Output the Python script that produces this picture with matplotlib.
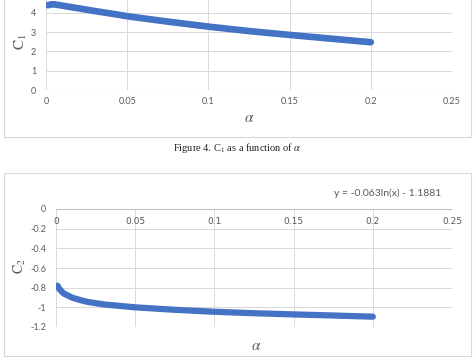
import matplotlib
matplotlib.use("Agg")
import matplotlib.pyplot as plt
from matplotlib.patches import Rectangle

# C1 curve
alpha_c1 = [0.001, 0.003, 0.005, 0.01, 0.02, 0.03, 0.04, 0.05, 0.075,
            0.1, 0.125, 0.15, 0.175, 0.2]
c1 = [4.40, 4.44, 4.45, 4.38, 4.24, 4.10, 3.97, 3.83, 3.55,
      3.29, 3.06, 2.86, 2.67, 2.48]

# C2 curve
alpha_c2 = [0.001, 0.002, 0.003, 0.005, 0.0075, 0.01, 0.015, 0.02, 0.03,
            0.04, 0.05, 0.075, 0.1, 0.125, 0.15, 0.175, 0.2]
c2 = [-0.78, -0.81, -0.83, -0.86, -0.88, -0.90, -0.925, -0.945, -0.97,
      -0.985, -1.0, -1.025, -1.045, -1.06, -1.072, -1.083, -1.095]

x_ticks = [0, 0.05, 0.1, 0.15, 0.2, 0.25]
x_tick_labels = ["0", "0.05", "0.1", "0.15", "0.2", "0.25"]
c1_ticks = [0, 1, 2, 3, 4]
c2_ticks = [0, -0.2, -0.4, -0.6, -0.8, -1, -1.2]
c2_tick_labels = ["0", "-0.2", "-0.4", "-0.6", "-0.8", "-1", "-1.2"]

equation = "y = -0.063ln(x) - 1.1881"

W, H = 475, 363
blue = "#4472c4"
grid = "#d9d9d9"
tick_col = "#595959"
tick_font = "Lato"

plt.rcParams["mathtext.fontset"] = "stix"

fig = plt.figure(figsize=(W / 100, H / 100), dpi=100)
fig.patch.set_facecolor("white")


def fx(px):
    return px / W


def fy(py):
    return 1 - py / H


# chart frames
for top, bottom in [(-2, 137), (173, 356)]:
    fig.add_artist(Rectangle((fx(4), fy(bottom)), fx(467), (bottom - top) / H,
                             transform=fig.transFigure, fill=False,
                             edgecolor="#d9d9d9", linewidth=0.8))


def style(ax):
    for s in ax.spines.values():
        s.set_visible(False)
    ax.grid(True, color=grid, linewidth=0.7)
    ax.set_axisbelow(True)
    ax.tick_params(length=0, labelsize=6.5, colors=tick_col)
    for lab in ax.get_xticklabels() + ax.get_yticklabels():
        lab.set_fontfamily(tick_font)


# top chart: C1
ax1 = fig.add_axes([fx(46), fy(90), fx(452 - 46), 96.3 / H])
ax1.plot(alpha_c1, c1, color=blue, linewidth=4.8, solid_capstyle="round")
ax1.set_xlim(0, 0.25)
ax1.set_ylim(0, 5)
ax1.set_xticks(x_ticks, x_tick_labels)
ax1.set_yticks(c1_ticks)
ax1.axhline(0, color="#bfbfbf", linewidth=0.8)
style(ax1)
ax1.tick_params(axis="x", pad=5)
ax1.tick_params(axis="y", pad=7)

fig.text(fx(21), fy(42), r"$\mathrm{C_1}$", rotation=90, ha="center",
         va="center", fontsize=11, color=tick_col)
fig.text(fx(249), fy(118), r"$\alpha$", ha="center", va="center",
         fontsize=11, color=tick_col)

fig.text(fx(237), fy(148), r"Figure 4. C$_1$ as a function of $\alpha$",
         ha="center", va="center", fontsize=7.5, family="Liberation Serif",
         color="#222222")

# bottom chart: C2
ax2 = fig.add_axes([fx(56), fy(327), fx(452 - 56), (327 - 209) / H])
ax2.plot(alpha_c2, c2, color=blue, linewidth=4.5, solid_capstyle="round")
ax2.set_xlim(0, 0.25)
ax2.set_ylim(-1.2, 0)
ax2.set_xticks(x_ticks, x_tick_labels)
ax2.set_yticks(c2_ticks, c2_tick_labels)
ax2.axhline(0, color="#bfbfbf", linewidth=0.8)
style(ax2)
ax2.tick_params(axis="x", labeltop=True, labelbottom=False, pad=-12)
ax2.tick_params(axis="y", pad=7)

fig.text(fx(441), fy(193), equation, ha="right", va="center", fontsize=7.5,
         color=tick_col, family=tick_font)
fig.text(fx(20), fy(266), r"$\mathrm{C_2}$", rotation=90, ha="center",
         va="center", fontsize=10, color=tick_col)
fig.text(fx(256), fy(345), r"$\alpha$", ha="center", va="center",
         fontsize=11, color=tick_col)

fig.savefig("out.png", dpi=100)
